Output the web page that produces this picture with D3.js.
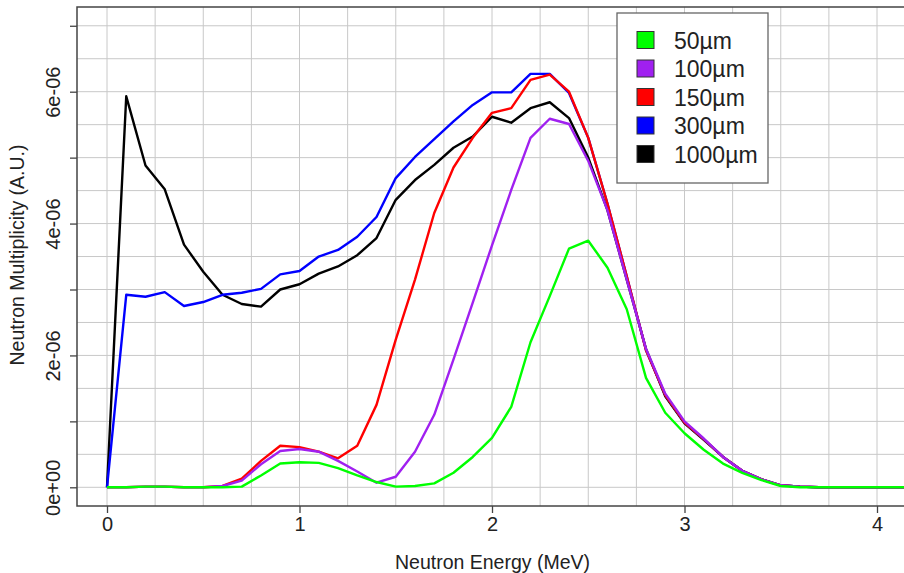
<!DOCTYPE html>
<html>
<head>
<meta charset="utf-8">
<script src="https://cdn.jsdelivr.net/npm/d3@7"></script>
<style>
  body { margin: 0; background: #fff; }
  text { font-family: "Liberation Sans", Arial, sans-serif; fill: #222; }
</style>
</head>
<body>
<svg id="chart" width="904" height="573"></svg>
<script>
// energies (MeV), 0.1 steps
const energy = [0,0.1,0.2,0.3,0.4,0.5,0.6,0.7,0.8,0.9,1.0,1.1,1.2,1.3,1.4,1.5,1.6,1.7,1.8,1.9,
  2.0,2.1,2.2,2.3,2.4,2.5,2.6,2.7,2.8,2.9,3.0,3.1,3.2,3.3,3.4,3.5,3.6,3.7,3.8,3.9,4.0,4.1,4.2,4.3];

// multiplicity in units of 1e-6
const um50 = [0,0,0.01,0.01,0,0,0,0.01,0.18,0.36,0.38,0.37,0.29,0.18,0.08,0.01,0.02,0.06,0.22,0.46,
  0.75,1.22,2.2,2.9,3.62,3.74,3.33,2.7,1.66,1.13,0.82,0.57,0.36,0.22,0.11,0.02,0,0,0,0,0,0,0,0];
const um100 = [0,0,0.01,0.01,0,0,0.02,0.1,0.35,0.55,0.58,0.54,0.4,0.24,0.07,0.16,0.54,1.1,1.94,2.8,
  3.67,4.51,5.3,5.59,5.51,4.95,4.2,3.15,2.1,1.42,1.0,0.74,0.46,0.25,0.12,0.03,0.01,0,0,0,0,0,0,0];
const um150 = [0,0,0.01,0.01,0,0,0.02,0.13,0.4,0.63,0.61,0.54,0.44,0.63,1.25,2.24,3.15,4.16,4.85,5.3,
  5.68,5.75,6.18,6.26,6.0,5.3,4.3,3.2,2.08,1.4,0.98,0.73,0.46,0.25,0.12,0.03,0.01,0,0,0,0,0,0,0];
const um300 = [0,2.92,2.89,2.96,2.75,2.81,2.92,2.95,3.01,3.23,3.28,3.5,3.6,3.8,4.1,4.69,5.01,5.28,5.55,5.8,
  5.99,5.99,6.27,6.27,5.98,5.3,4.3,3.2,2.08,1.4,0.98,0.73,0.46,0.25,0.12,0.03,0.01,0,0,0,0,0,0,0];
const um1000 = [0,5.93,4.88,4.52,3.68,3.27,2.92,2.78,2.74,3.0,3.08,3.24,3.35,3.52,3.78,4.36,4.66,4.89,5.15,5.32,
  5.62,5.53,5.75,5.84,5.6,5.0,4.2,3.15,2.1,1.38,0.97,0.72,0.46,0.25,0.12,0.03,0.01,0,0,0,0,0,0,0];

const seriesNames = ["50\u00b5m", "100\u00b5m", "150\u00b5m", "300\u00b5m", "1000\u00b5m"];
const seriesColors = ["#00ff00", "#a020f0", "#ff0000", "#0000ff", "#000000"];
const seriesValues = [um50, um100, um150, um300, um1000];

const xTicks = [0, 1, 2, 3, 4];
const yTicks = [0, 1e-6, 2e-6, 3e-6, 4e-6, 5e-6, 6e-6, 7e-6];
const yLabels = { 0: "0e+00", 2: "2e-06", 4: "4e-06", 6: "6e-06" };

const svg = d3.select("#chart");

// plot box
const box = { left: 77, top: 7, right: 940, bottom: 506 };

const x = d3.scaleLinear().domain([0, 4]).range([107, 877]);
const y = d3.scaleLinear().domain([0, 6e-6]).range([487.3, 91.7]);

// clip
svg.append("clipPath").attr("id", "clip")
  .append("rect")
  .attr("x", box.left).attr("y", box.top)
  .attr("width", box.right - box.left).attr("height", box.bottom - box.top);

// grid
const grid = svg.append("g").attr("clip-path", "url(#clip)");
const xGrid = d3.range(-0.25, 4.5, 0.25);
const yGrid = d3.range(-0.5e-6, 7.6e-6, 0.5e-6);
grid.selectAll(".gx").data(xGrid).enter().append("line")
  .attr("x1", d => x(d)).attr("x2", d => x(d))
  .attr("y1", box.top).attr("y2", box.bottom)
  .attr("stroke", "#c8c8c8").attr("stroke-width", 1);
grid.selectAll(".gy").data(yGrid).enter().append("line")
  .attr("x1", box.left).attr("x2", box.right)
  .attr("y1", d => y(d)).attr("y2", d => y(d))
  .attr("stroke", "#c8c8c8").attr("stroke-width", 1);

// lines, drawn back to front
const line = d3.line()
  .x((d, i) => x(energy[i]))
  .y(d => y(d * 1e-6));

const order = [4, 3, 2, 1, 0];
grid.selectAll(".series").data(order).enter().append("path")
  .attr("d", k => line(seriesValues[k]))
  .attr("fill", "none")
  .attr("stroke", k => seriesColors[k])
  .attr("stroke-width", 2.4)
  .attr("stroke-linejoin", "round");

// box
svg.append("rect")
  .attr("x", box.left).attr("y", box.top)
  .attr("width", box.right - box.left).attr("height", box.bottom - box.top)
  .attr("fill", "none").attr("stroke", "#444").attr("stroke-width", 1.5);

// x axis
const xAxis = d3.axisBottom(x).tickValues(xTicks).tickSize(7).tickPadding(4)
  .tickFormat(d3.format("d"));
const gx = svg.append("g").attr("transform", `translate(0,${box.bottom})`).call(xAxis);
gx.select(".domain").remove();
gx.selectAll("line").attr("stroke", "#444").attr("stroke-width", 1.3);
gx.selectAll("text").attr("font-size", 20).attr("fill", "#222")
  .attr("font-family", "Liberation Sans, Arial, sans-serif");

// y axis
const yAxis = d3.axisLeft(y).tickValues(yTicks).tickSize(7)
  .tickFormat(d => yLabels[Math.round(d * 1e6)] || "");
const gy = svg.append("g").attr("transform", `translate(${box.left},0)`).call(yAxis);
gy.select(".domain").remove();
gy.selectAll("line").attr("stroke", "#444").attr("stroke-width", 1.3);
gy.selectAll("text")
  .attr("font-size", 20).attr("fill", "#222")
  .attr("font-family", "Liberation Sans, Arial, sans-serif")
  .attr("text-anchor", "middle")
  .attr("dy", null)
  .attr("x", 0)
  .attr("transform", "translate(-11,0) rotate(-90)")
  .attr("y", -6)
  .attr("dominant-baseline", "auto");

// titles
svg.append("text")
  .attr("x", 492.5).attr("y", 569)
  .attr("text-anchor", "middle").attr("font-size", 19.5)
  .text("Neutron Energy (MeV)");
svg.append("text")
  .attr("transform", "translate(24,255) rotate(-90)")
  .attr("text-anchor", "middle").attr("font-size", 19.5)
  .text("Neutron Multiplicity (A.U.)");

// legend
const legend = svg.append("g");
legend.append("rect")
  .attr("x", 617).attr("y", 13).attr("width", 151).attr("height", 170)
  .attr("fill", "#fff").attr("stroke", "#666").attr("stroke-width", 1.3);
const rows = legend.selectAll(".row").data(seriesNames).enter().append("g")
  .attr("transform", (d, i) => `translate(637,${40 + i * 28.5})`);
rows.append("rect")
  .attr("x", 0).attr("y", -8.5).attr("width", 17).attr("height", 17)
  .attr("fill", (d, i) => seriesColors[i])
  .attr("stroke", "#333").attr("stroke-width", 1);
rows.append("text")
  .attr("x", 37).attr("y", 8.5)
  .attr("font-size", 23)
  .text(d => d);
</script>
</body>
</html>
